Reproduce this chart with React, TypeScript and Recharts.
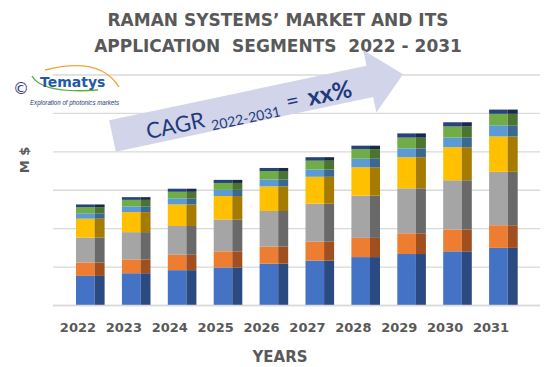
import { BarChart, Bar, XAxis, YAxis, CartesianGrid } from 'recharts'

// years on the x axis
const years = ['2022', '2023', '2024', '2025', '2026', '2027', '2028', '2029', '2030', '2031']

// segment values (M$, arbitrary scale)
const segBlue = [77, 84, 92, 99, 109, 117, 126, 134, 141, 150]
const segOrange = [35, 36, 40, 42, 44, 49, 50, 54, 57, 59]
const segGray = [65, 71, 75, 83, 93, 99, 110, 117, 128, 139]
const segYellow = [49, 52, 56, 61, 64, 70, 74, 81, 86, 92]
const segLightBlue = [14, 15, 16, 16, 18, 19, 22, 23, 25, 29]
const segGreen = [16, 17, 17, 18, 22, 23, 25, 28, 29, 30]
const segNavy = [7, 7, 8, 8, 8, 9, 9, 11, 11, 11]

const yTicks = [0, 100, 200, 300, 400, 500, 600]

const series = [
    { key: 's1', values: segBlue, front: '#4472C4', side: '#2C4A82' },
    { key: 's2', values: segOrange, front: '#ED7D31', side: '#A14F1E' },
    { key: 's3', values: segGray, front: '#A5A5A5', side: '#696969' },
    { key: 's4', values: segYellow, front: '#FFC000', side: '#A67C00' },
    { key: 's5', values: segLightBlue, front: '#5B9BD5', side: '#3A6890' },
    { key: 's6', values: segGreen, front: '#70AD47', side: '#4A742F' },
    { key: 's7', values: segNavy, front: '#264478', side: '#18294A' },
]

const data = years.map((year, i) => {
    const row: any = { year }
    series.forEach(s => { row[s.key] = s.values[i] })
    return row
})

const TEXT = '#595959'
const NAVY = '#1F3A7A'

// bars are drawn slightly to the right of the label, with a darker side face
const BAR_SHIFT = 12
const FRONT_RATIO = 0.65

const makeShape = (front: string, side: string) => (props: any) => {
    const { x, y, width, height } = props
    if (!height || height <= 0) return <g />
    const sx = x + BAR_SHIFT
    const fw = width * FRONT_RATIO
    return (
        <g>
            <rect x={sx} y={y} width={fw} height={height} fill={front} />
            <rect x={sx + fw} y={y} width={width - fw} height={height} fill={side} />
        </g>
    )
}

const YearTick = (props: any) => {
    const { x, y, payload } = props
    return (
        <text x={x} y={y} dy={18.5} textAnchor="middle" fill={TEXT}
            fontFamily="DejaVu Sans" fontWeight="bold" fontSize={13}>
            {payload.value}
        </text>
    )
}

const Overlay = () => (
    <svg width={550} height={367} style={{ position: 'absolute', left: 0, top: 0, pointerEvents: 'none' }}>
        {/* title */}
        <text x={278} y={26} textAnchor="middle" fill={TEXT} fontFamily="DejaVu Sans" fontWeight="bold" fontSize={17}>
            RAMAN SYSTEMS’ MARKET AND ITS
        </text>
        <text x={278} y={52} textAnchor="middle" fill={TEXT} fontFamily="DejaVu Sans" fontWeight="bold" fontSize={17}
            style={{ whiteSpace: 'pre' }}>
            {'APPLICATION  SEGMENTS  2022 - 2031'}
        </text>

        {/* logo */}
        <text x={21} y={94} textAnchor="middle" fill="#2E3480" fontFamily="DejaVu Sans" fontSize={16}>©</text>
        <path d="M 45 70 Q 100 56 119 87" stroke="#F2A43A" strokeWidth={1.4} fill="none" />
        <path d="M 32 76 Q 42 94 98 90" stroke="#5DAE3C" strokeWidth={1.4} fill="none" />
        <text x={40} y={87} fill="#1F5AA6" fontFamily="DejaVu Sans" fontWeight="bold" fontSize={14}>Tematys</text>
        <text x={30} y={105} fill={NAVY} fontFamily="Liberation Sans" fontStyle="italic" fontSize={7}
            textLength={89} lengthAdjust="spacingAndGlyphs">
            Exploration of photonics markets
        </text>

        {/* CAGR arrow */}
        <g transform="translate(112.5,136) rotate(-12)">
            <polygon points="0,-16 263,-16 263,-32 297,0 263,32 263,16 0,16" fill="#D2D4EA" />
            <text fill={NAVY} fontFamily="Lato">
                <tspan x={34} y={10.5} fontSize={22}>CAGR</tspan>
                <tspan x={99} y={15.5} fontSize={14}>2022-2031</tspan>
                <tspan x={177} y={10.5} fontSize={22}>=</tspan>
                <tspan x={199} y={11.5} fontSize={24} fontWeight="bold">xx%</tspan>
            </text>
        </g>

        {/* axis titles */}
        <text x={0} y={0} transform="translate(29,160) rotate(-90)" textAnchor="middle" fill={TEXT}
            fontFamily="DejaVu Sans" fontWeight="bold" fontSize={13} style={{ whiteSpace: 'pre' }}>
            {'M $'}
        </text>
        <text x={280} y={362} textAnchor="middle" fill={TEXT} fontFamily="DejaVu Sans" fontWeight="bold" fontSize={15}>
            YEARS
        </text>
    </svg>
)

export default function App() {
    return (
        <div style={{ position: 'absolute', left: 0, top: 0, width: 550, height: 367, background: '#fff' }}>
            <BarChart width={550} height={367} data={data}
                margin={{ top: 75, right: 10, left: 53, bottom: 31.5 }}>
                <CartesianGrid vertical={false} stroke="#D9D9D9" strokeWidth={1.3} />
                <XAxis dataKey="year" height={30} tickLine={false} axisLine={{ stroke: '#D9D9D9', strokeWidth: 1.3 }}
                    padding={{ left: 2, right: 26 }} tick={<YearTick />} interval={0} />
                <YAxis hide domain={[0, 600]} ticks={yTicks} />
                {series.map(s => (
                    <Bar key={s.key} dataKey={s.key} stackId="a" barSize={28.6}
                        shape={makeShape(s.front, s.side)} isAnimationActive={false} />
                ))}
            </BarChart>
            <Overlay />
        </div>
    )
}
